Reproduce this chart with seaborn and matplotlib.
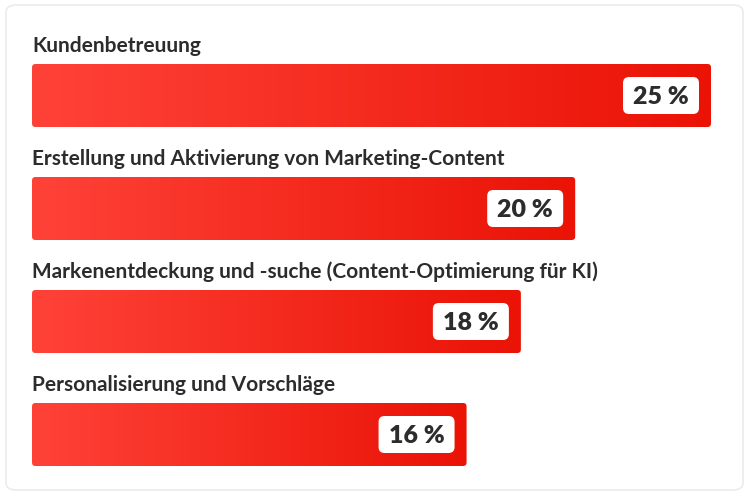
import numpy as np
import pandas as pd
import matplotlib
matplotlib.use("Agg")
import matplotlib.pyplot as plt
import seaborn as sns
from matplotlib.patches import FancyBboxPatch
from matplotlib.colors import LinearSegmentedColormap

categories = [
    "Kundenbetreuung",
    "Erstellung und Aktivierung von Marketing-Content",
    "Markenentdeckung und -suche (Content-Optimierung für KI)",
    "Personalisierung und Vorschläge",
]
values = [25, 20, 18, 16]
value_labels = ["25 %", "20 %", "18 %", "16 %"]

df = pd.DataFrame({"category": categories, "value": values})

sns.set_theme(style="white")
plt.rcParams["font.family"] = ["Lato", "DejaVu Sans"]

W, H = 750, 500
fig = plt.figure(figsize=(W / 100, H / 100), dpi=100)
fig.patch.set_facecolor("white")

# card background
card = FancyBboxPatch((6 / W, 10 / H), 737 / W, 485 / H,
                      boxstyle="round,pad=0,rounding_size=0.014",
                      transform=fig.transFigure, facecolor="white",
                      edgecolor="#ebebeb", linewidth=1.2, zorder=-5)
fig.patches.append(card)

# axes: x from pixel 32 to 711 -> 0..25
ax_left = 32 / W
ax_width = (711 - 32) / W
ax = fig.add_axes([ax_left, 0, ax_width, 1])
ax.set_facecolor("none")
ax.set_zorder(1)

spacing = 113.0
bar_h = 63 / spacing
sns.barplot(data=df, x="value", y="category", orient="h", ax=ax,
            width=bar_h, color="#f22d20", saturation=1, legend=False)

ax.set_xlim(0, 25)
y_top = 0 - 95.5 / spacing
y_bot = 3 + (500 - 434.5) / spacing
ax.set_ylim(y_bot, y_top)
ax.axis("off")

px_x = (711 - 32) / 25.0  # pixels per unit x
px_y = spacing

cmap = LinearSegmentedColormap.from_list("red", ["#ff4238", "#ea1306"])
grad = np.linspace(0, 1, 256).reshape(1, -1)

for i, patch in enumerate(list(ax.patches)):
    x0, y0 = patch.get_x(), patch.get_y()
    w, h = patch.get_width(), patch.get_height()
    patch.set_visible(False)
    r = 3.5 / px_x
    rounded = FancyBboxPatch((x0, y0), w, h,
                             boxstyle=f"round,pad=0,rounding_size={r}",
                             mutation_aspect=px_x / px_y,
                             facecolor="none", edgecolor="none",
                             transform=ax.transData, clip_on=False)
    ax.add_patch(rounded)
    im = ax.imshow(grad, cmap=cmap, aspect="auto",
                   extent=(x0, x0 + w, y0 + h, y0), zorder=2,
                   interpolation="bilinear")
    im.set_clip_path(rounded)

ax.set_xlim(0, 25)
ax.set_ylim(y_bot, y_top)

for i, (cat, val, lab) in enumerate(zip(categories, values, value_labels)):
    # category label above bar
    ax.text(0, i - 43.8 / px_y, cat, ha="left", va="baseline",
            fontsize=15.0, fontweight="bold", color="#2c2c2c",
            clip_on=False)
    # value box
    bw, bh = 76 / px_x, 37 / px_y
    bx = val - 12 / px_x - bw
    by = i - bh / 2
    rr = 6 / px_x
    box = FancyBboxPatch((bx, by), bw, bh,
                         boxstyle=f"round,pad=0,rounding_size={rr}",
                         mutation_aspect=px_x / px_y,
                         facecolor="white", edgecolor="none",
                         zorder=3, clip_on=False)
    ax.add_patch(box)
    ax.text(bx + bw / 2, i + 8.8 / px_y, lab, ha="center", va="baseline",
            fontsize=18, fontweight="heavy", color="#2c2c2c", zorder=4)

fig.savefig("out.png", dpi=100, facecolor="white")
